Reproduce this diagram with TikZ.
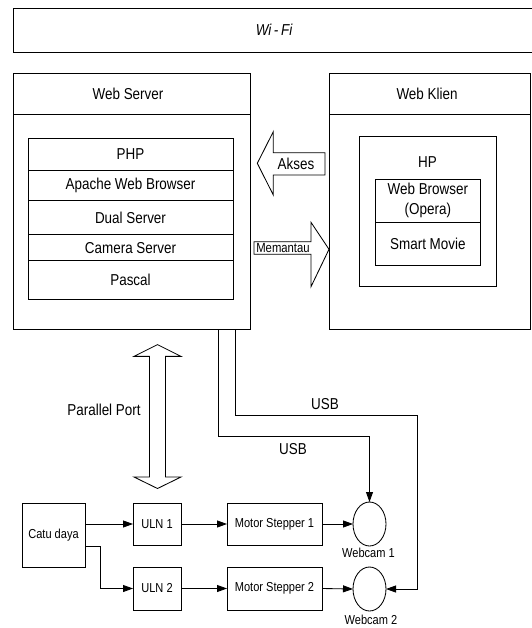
\documentclass[tikz,border=0pt]{standalone}
\usepackage{fontspec}
\setmainfont{Liberation Sans}[FakeStretch=0.85]
\usetikzlibrary{arrows.meta,shapes.geometric,calc}

\tikzset{
  ln/.style={line width=0.85pt, draw=black},
  box/.style={ln, rectangle, inner sep=0pt, outer sep=0pt},
  big/.style={font=\fontsize{15.8}{19.5}\selectfont},
  small/.style={font=\fontsize{13}{15.5}\selectfont},
  row/.style={box, big, anchor=north, minimum width=205pt},
  inrow/.style={box, big, anchor=north west, minimum width=105.7pt, align=center},
  blk/.style={box, small, minimum height=42pt},
  cam/.style={ln, ellipse, inner sep=0pt, outer sep=0pt, minimum width=33pt, minimum height=44pt},
  arr/.style={ln, -{Triangle[length=10pt,width=7pt]}},
  fat/.style={ln, fill=white, line join=miter}
}

\begin{document}
\begin{tikzpicture}[x=1pt,y=-1pt]
\useasboundingbox (0,0) rectangle (531,628);

% network band
\node[box, anchor=north west, minimum width=530pt, minimum height=43.5pt] (wifi) at (13.5,8.5) {};
\node[font=\fontsize{15.8}{19.5}\selectfont\itshape] (wifilbl) at (274,30) {Wi\,-\,Fi};

% server side
\node[box, anchor=north west, minimum width=236.5pt, minimum height=255.5pt] (srv) at (13.5,73.5) {};
\draw[ln] ([yshift=-41pt]srv.north west) -- ([yshift=-41pt]srv.north east);
\node[big] (srvtitle) at (128,94) {Web Server};

\node[row, minimum height=31.3pt] (php) at (130.5,138.7) {PHP};
\node[row, minimum height=30.7pt] (apache) at (130.5,170) {Apache Web Browser};
\node[row, minimum height=34pt] (dual) at (130.5,200.7) {Dual Server};
\node[row, minimum height=26pt] (camsrv) at (130.5,234.7) {Camera Server};
\node[row, minimum height=38.6pt] (pascal) at (130.5,260.7) {Pascal};

% client side
\node[box, anchor=north west, minimum width=201.5pt, minimum height=255.5pt] (cli) at (329,73.5) {};
\draw[ln] ([yshift=-41pt]cli.north west) -- ([yshift=-41pt]cli.north east);
\node[big] (clititle) at (427,94) {Web Klien};

\node[box, anchor=north west, minimum width=136.7pt, minimum height=150pt] (hp) at (359.3,136.7) {};
\node[big] (hplbl) at (427.5,161.7) {HP};
\node[inrow, minimum height=43.3pt] (browser) at (375,179) {Web Browser\\(Opera)};
\node[inrow, minimum height=42.7pt] (smart) at (375,222.3) {Smart Movie};

% access / monitoring arrows
\draw[fat] (257.3,163.3) -- (273.3,131.7) -- (273.3,152.7) -- (325,152.7)
  -- (325,175) -- (273.3,175) -- (273.3,195) -- cycle;
\node[big] (akses) at (296,163.8) {Akses};

\draw[fat] (254,241.7) -- (311,241.7) -- (311,222.3) -- (329,249.3)
  -- (311,286.7) -- (311,254.3) -- (254,254.3) -- cycle;
\node[font=\fontsize{13.3}{15.5}\selectfont] (memantau) at (283,248.3) {Memantau};

% parallel port link
\draw[fat] (157.5,344.6) -- (181,356.4) -- (165.5,356.4) -- (165.5,477)
  -- (181,477) -- (157.5,488.5) -- (134,477) -- (149.5,477)
  -- (149.5,356.4) -- (134,356.4) -- cycle;
\node[big] (pport) at (104,409.6) {Parallel Port};

% hardware chain
\node[box, small, minimum width=63pt, minimum height=64pt] (catu) at (53.5,535) {Catu daya};
\node[blk, minimum width=48pt] (uln1) at (157,524) {ULN 1};
\node[blk, minimum width=48pt, minimum height=43pt] (uln2) at (157,588.5) {ULN 2};
\node[blk, minimum width=95pt] (ms1) at (274.5,524) {Motor Stepper 1};
\node[blk, minimum width=95pt, minimum height=43pt] (ms2) at (274.5,588.5) {Motor Stepper 2};
\node[cam] (cam1) at (369.5,524) {};
\node[cam] (cam2) at (369.5,589) {};
\node[small] (cam1lbl) at (368.5,553) {Webcam 1};
\node[small] (cam2lbl) at (371,620) {Webcam 2};

\draw[arr] (catu.east |- uln1.west) -- (uln1.west);
\draw[arr] ([yshift=-11pt]catu.east) -- ++(15,0) |- (uln2.west);
\draw[arr] (uln1.east) -- (ms1.west);
\draw[arr] (uln2.east) -- (ms2.west);
\draw[arr] (ms1.east) -- (cam1.west);
\draw[arr] (ms2.east) -- (cam2.west);

% USB links
\draw[arr] ([xshift=86.75pt]srv.south) -- ++(0,107.5) -| (cam1.north);
\draw[arr] ([xshift=103.25pt]srv.south) -- ++(0,86) -- ++(182,0) |- (cam2.east);
\node[big] (usb1) at (325,404) {USB};
\node[big] (usb2) at (293,449) {USB};
\end{tikzpicture}
\end{document}
